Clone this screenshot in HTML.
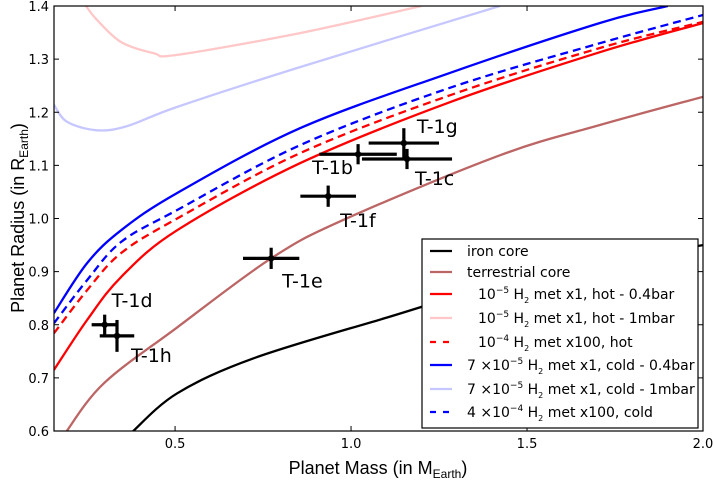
<!DOCTYPE html>
<html><head><meta charset="utf-8"><style>
body{margin:0;background:#fff;}
svg{display:block;font-family:"DejaVu Sans","Liberation Sans",sans-serif;}
</style></head><body>
<svg id="chart" width="713" height="480" xmlns="http://www.w3.org/2000/svg"></svg>
<script>
const xTicks=[0.5,1.0,1.5,2.0];
const xTickLabels=["0.5","1.0","1.5","2.0"];
const yTicks=[0.6,0.7,0.8,0.9,1.0,1.1,1.2,1.3,1.4];
const yTickLabels=["0.6","0.7","0.8","0.9","1.0","1.1","1.2","1.3","1.4"];

const ironM=[0.378,0.506,0.724,1.094,1.5,2.0];
const ironR=[0.598,0.671,0.737,0.812,0.89,0.95];
const terrM=[0.19,0.298,0.506,0.773,0.977,1.423,1.707,2.0];
const terrR=[0.598,0.69,0.795,0.925,0.997,1.119,1.176,1.229];
const hotM=[0.156,0.25,0.347,0.506,0.855,1.281,1.707,2.0];
const hotR=[0.715,0.809,0.890,0.978,1.104,1.219,1.313,1.368];
const hot1mbM=[0.247,0.278,0.347,0.44,0.506,0.855,1.2];
const hot1mbR=[1.4,1.374,1.332,1.311,1.308,1.349,1.4];
const hotMetM=[0.156,0.25,0.347,0.506,0.855,1.281,1.707,2.0];
const hotMetR=[0.784,0.865,0.935,1.0,1.123,1.232,1.321,1.37];
const coldM=[0.156,0.25,0.347,0.506,0.855,1.281,1.707,1.9];
const coldR=[0.822,0.916,0.978,1.048,1.17,1.274,1.368,1.4];
const cold1mbM=[0.156,0.193,0.278,0.364,0.506,0.855,1.423];
const cold1mbR=[1.214,1.182,1.166,1.174,1.21,1.285,1.4];
const coldMetM=[0.156,0.25,0.347,0.506,0.855,1.281,1.707,2.0];
const coldMetR=[0.803,0.884,0.956,1.016,1.138,1.246,1.33,1.383];

const planetNames=["T-1b","T-1c","T-1d","T-1e","T-1f","T-1g","T-1h"];
const planetM=[1.02,1.159,0.30,0.773,0.935,1.15,0.335];
const planetR=[1.121,1.112,0.80,0.925,1.042,1.142,0.779];
const planetMErr=[0.11,0.128,0.037,0.08,0.079,0.1,0.049];
const planetRErr=[0.019,0.019,0.019,0.02,0.02,0.028,0.03];
const labelDx=[-46,8,7,11,12,13,14];
const labelDy=[20,26,-18,29,31,-10,26];

const X0=54,X1=703,Y0=6,Y1=431;
const xMin=0.156,xMax=2.0,yMin=0.6,yMax=1.4;
function sx(m){return X0+(m-xMin)/(xMax-xMin)*(X1-X0);}
function sy(r){return Y1-(r-yMin)/(yMax-yMin)*(Y1-Y0);}
const NS="http://www.w3.org/2000/svg";
const svg=document.getElementById('chart');
function el(tag,attrs,parent){const e=document.createElementNS(NS,tag);for(const k in attrs)e.setAttribute(k,attrs[k]);(parent||svg).appendChild(e);return e;}

const defs=el('defs',{});
const cp=el('clipPath',{id:'clip'},defs);
el('rect',{x:X0,y:Y0,width:X1-X0,height:Y1-Y0},cp);
const plot=el('g',{'clip-path':'url(#clip)'});



function smoothPath(pts){
  let d='M'+pts[0][0].toFixed(1)+','+pts[0][1].toFixed(1);
  for(let i=0;i<pts.length-1;i++){
    const p0=pts[Math.max(0,i-1)],p1=pts[i],p2=pts[i+1],p3=pts[Math.min(pts.length-1,i+2)];
    const c1=[p1[0]+(p2[0]-p0[0])/6,p1[1]+(p2[1]-p0[1])/6];
    const c2=[p2[0]-(p3[0]-p1[0])/6,p2[1]-(p3[1]-p1[1])/6];
    d+=' C'+c1[0].toFixed(1)+','+c1[1].toFixed(1)+' '+c2[0].toFixed(1)+','+c2[1].toFixed(1)+' '+p2[0].toFixed(1)+','+p2[1].toFixed(1);
  }
  return d;
}
function curve(ms,rs,color,dash,name,op){
  const pts=ms.map((m,i)=>[sx(m),sy(rs[i])]);
  const p=el('path',{d:smoothPath(pts),fill:'none',stroke:color,'stroke-width':2.3,'stroke-linejoin':'round'},plot);
  if(dash)p.setAttribute('stroke-dasharray','8,5');
  if(op)p.setAttribute('stroke-opacity',op);
  
  
}
curve(hot1mbM,hot1mbR,'#ff0000',false,'hot-1mbar-curve',0.22);
curve(cold1mbM,cold1mbR,'#0000ff',false,'cold-1mbar-curve',0.22);
curve(ironM,ironR,'#000000',false,'iron-core-curve');
curve(terrM,terrR,'#bc6565',false,'terrestrial-core-curve');
curve(hotM,hotR,'#ff0000',false,'hot-0.4bar-curve');
curve(hotMetM,hotMetR,'#ff0000',true,'hot-met100-curve');
curve(coldM,coldR,'#0000ff',false,'cold-0.4bar-curve');
curve(coldMetM,coldMetR,'#0000ff',true,'cold-met100-curve');

planetNames.forEach((n,i)=>{
  const g=el('g',{});
  
  
  const cx=sx(planetM[i]),cy=sy(planetR[i]);
  el('line',{x1:sx(planetM[i]-planetMErr[i]),x2:sx(planetM[i]+planetMErr[i]),y1:cy,y2:cy,stroke:'#000','stroke-width':3.2},g);
  el('line',{x1:cx,x2:cx,y1:sy(planetR[i]-planetRErr[i]),y2:sy(planetR[i]+planetRErr[i]),stroke:'#000','stroke-width':3.2},g);
  el('circle',{cx:cx,cy:cy,r:3.2,fill:'#000'},g);
  const t=el('text',{x:cx+labelDx[i],y:cy+labelDy[i],'font-size':19,fill:'#000'},g);
  t.textContent=n;
});

const frame=el('rect',{x:X0,y:Y0,width:X1-X0,height:Y1-Y0,fill:'none',stroke:'#000','stroke-width':1.2});



xTicks.forEach((v,i)=>{
  const x=sx(v);
  el('line',{x1:x,x2:x,y1:Y1,y2:Y1-5,stroke:'#000'});
  el('line',{x1:x,x2:x,y1:Y0,y2:Y0+5,stroke:'#000'});
  const t=el('text',{x:x,y:Y1+17,'font-size':13,'text-anchor':'middle',fill:'#000'});
  
  
  t.textContent=xTickLabels[i];
});
yTicks.forEach((v,i)=>{
  const y=sy(v);
  el('line',{x1:X0,x2:X0+5,y1:y,y2:y,stroke:'#000'});
  el('line',{x1:X1,x2:X1-5,y1:y,y2:y,stroke:'#000'});
  const t=el('text',{x:X0-5,y:y+5,'font-size':13,'text-anchor':'end',fill:'#000'});
  
  
  t.textContent=yTickLabels[i];
});
</script>
<svg style="position:absolute;left:0;top:0" width="713" height="480" xmlns="http://www.w3.org/2000/svg" font-family="DejaVu Sans, Liberation Sans, sans-serif">
<text x="378" y="474" font-size="18" text-anchor="middle" font-family="Liberation Sans, sans-serif">Planet Mass (in M<tspan font-size="12" dy="4">Earth</tspan><tspan dy="-4">)</tspan></text>
<text transform="translate(24,218) rotate(-90)" font-size="18" text-anchor="middle" font-family="Liberation Sans, sans-serif">Planet Radius (in R<tspan font-size="12" dy="4">Earth</tspan><tspan dy="-4">)</tspan></text>
<g font-size="14">
<rect x="422" y="239" width="276" height="189" fill="#fff" stroke="#000" stroke-width="1.2"/>
<g><line x1="430" x2="452" y1="251" y2="251" stroke="#000" stroke-width="2.3"/><text x="467" y="256">iron core</text></g>
<g><line x1="430" x2="452" y1="272" y2="272" stroke="#bc6565" stroke-width="2.3"/><text x="467" y="277">terrestrial core</text></g>
<g><line x1="430" x2="452" y1="294" y2="294" stroke="#f00" stroke-width="2.3"/><text x="478" y="299">10<tspan font-size="9" dy="-6">−5</tspan><tspan dy="6"> H</tspan><tspan font-size="8" dy="4">2</tspan><tspan dy="-4"> met x1, hot - 0.4bar</tspan></text></g>
<g><line x1="430" x2="452" y1="318" y2="318" stroke="#f00" stroke-opacity="0.22" stroke-width="2.3"/><text x="478" y="323">10<tspan font-size="9" dy="-6">−5</tspan><tspan dy="6"> H</tspan><tspan font-size="8" dy="4">2</tspan><tspan dy="-4"> met x1, hot - 1mbar</tspan></text></g>
<g><line x1="430" x2="452" y1="342" y2="342" stroke="#f00" stroke-width="2.3" stroke-dasharray="6,7"/><text x="478" y="347">10<tspan font-size="9" dy="-6">−4</tspan><tspan dy="6"> H</tspan><tspan font-size="8" dy="4">2</tspan><tspan dy="-4"> met x100, hot</tspan></text></g>
<g><line x1="430" x2="452" y1="365" y2="365" stroke="#00f" stroke-width="2.3"/><text x="467" y="370">7 ×10<tspan font-size="9" dy="-6">−5</tspan><tspan dy="6"> H</tspan><tspan font-size="8" dy="4">2</tspan><tspan dy="-4"> met x1, cold - 0.4bar</tspan></text></g>
<g><line x1="430" x2="452" y1="389" y2="389" stroke="#00f" stroke-opacity="0.22" stroke-width="2.3"/><text x="467" y="394">7 ×10<tspan font-size="9" dy="-6">−5</tspan><tspan dy="6"> H</tspan><tspan font-size="8" dy="4">2</tspan><tspan dy="-4"> met x1, cold - 1mbar</tspan></text></g>
<g><line x1="430" x2="452" y1="412" y2="412" stroke="#00f" stroke-width="2.3" stroke-dasharray="6,7"/><text x="467" y="417">4 ×10<tspan font-size="9" dy="-6">−4</tspan><tspan dy="6"> H</tspan><tspan font-size="8" dy="4">2</tspan><tspan dy="-4"> met x100, cold</tspan></text></g>
</g>
</svg>
</body></html>
